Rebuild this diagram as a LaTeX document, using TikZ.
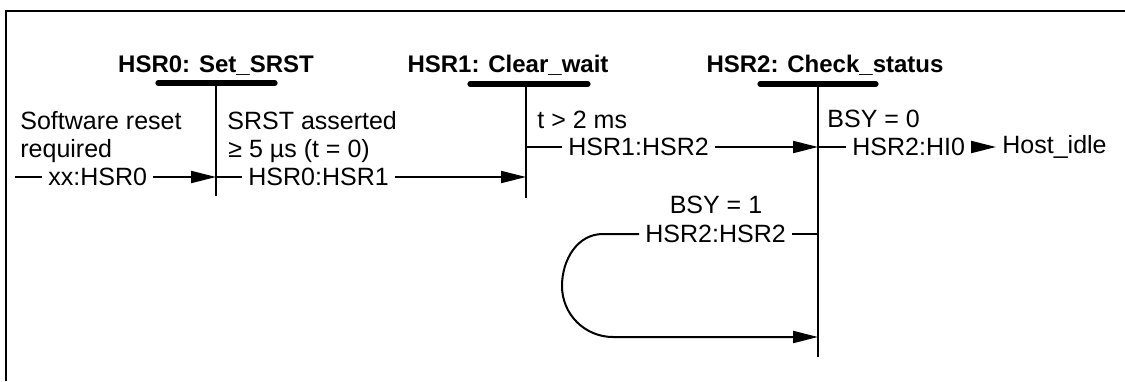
\documentclass[tikz,border=0pt]{standalone}
\usepackage{fontspec}
\setmainfont{Liberation Sans}
\usetikzlibrary{arrows.meta}

\begin{document}
\begin{tikzpicture}[x=0.5pt, y=-0.5pt,
		every node/.style={font=\fontsize{12.5}{14}\selectfont, inner sep=0pt},
		lbl/.style={anchor=west, inner xsep=3pt},
		txt/.style={anchor=base west},
		title/.style={anchor=base, font=\fontsize{12}{14}\selectfont\bfseries},
		bar/.style={line width=2.6pt, line cap=round},
		life/.style={line width=1pt},
		conn/.style={line width=1pt},
		arr/.style={line width=1pt, -{Triangle[length=12.5pt, width=6pt]}}]

		\useasboundingbox (0,0) rectangle (1125,381);
		\draw[line width=1.4pt] (6,381) -- (6,11) -- (1125,11);

		\coordinate (s0t) at (216,83);
		\coordinate (s0b) at (216,196);
		\coordinate (s1t) at (526,84);
		\coordinate (s1b) at (526,198);
		\coordinate (s2t) at (818,84);
		\coordinate (s2b) at (818,357);

		\draw[bar] (158,83) -- (275,83);
		\draw[bar] (470,84) -- (588,84);
		\draw[bar] (760,84) -- (876,84);
		\draw[life] (s0t) -- (s0b);
		\draw[life] (s1t) -- (s1b);
		\draw[life] (s2t) -- (s2b);

		\node[title] (t0) at (216,72) {HSR0: Set\_SRST};
		\node[title] (t1) at (508,72) {HSR1: Clear\_wait};
		\node[title] (t2) at (825,72) {HSR2: Check\_status};

		\node[txt] (c0a) at (20,129) {Software reset};
		\node[txt] (c0b) at (20,157) {required};
		\node[txt] (c1a) at (227,129) {SRST asserted};
		\node[txt] (c1b) at (228,157) {≥ 5 µs (t = 0)};
		\node[txt] (c2) at (537,128) {t > 2 ms};
		\node[txt] (c3) at (827,127) {BSY = 0};
		\node[anchor=base] (c4) at (716,213) {BSY = 1};

		\coordinate (in0) at (15,177);
		\node[lbl] (xx) at (42,177) {xx:HSR0};
		\node[lbl] (h01) at (242,177) {HSR0:HSR1};
		\node[lbl] (h12) at (562,147) {HSR1:HSR2};
		\node[lbl] (h2i) at (846,147) {HSR2:HI0};
		\node[lbl] (idle) at (996,147) {Host\_idle};
		\node[lbl] (h22) at (639,234) {HSR2:HSR2};
		\coordinate (s2in) at (818,337);

		\draw[conn] (in0) -- (xx.west);
		\draw[arr] (xx.east) -- (xx.east -| s0t);
		\draw[conn] (h01.west -| s0t) -- (h01.west);
		\draw[arr] (h01.east) -- (h01.east -| s1t);
		\draw[conn] (h12.west -| s1t) -- (h12.west);
		\draw[arr] (h12.east) -- (h12.east -| s2t);
		\draw[conn] (h2i.west -| s2t) -- (h2i.west);
		\draw[arr] (h2i.east) -- (idle.west);
		\draw[conn] (h22.east -| s2t) -- (h22.east);
		\draw[arr] (h22.west) -- ++(-36,0) to[out=180, in=90] ++(-41,52)
			to[out=-90, in=180] ++(51,51) -- (s2in);

	\end{tikzpicture}
\end{document}
